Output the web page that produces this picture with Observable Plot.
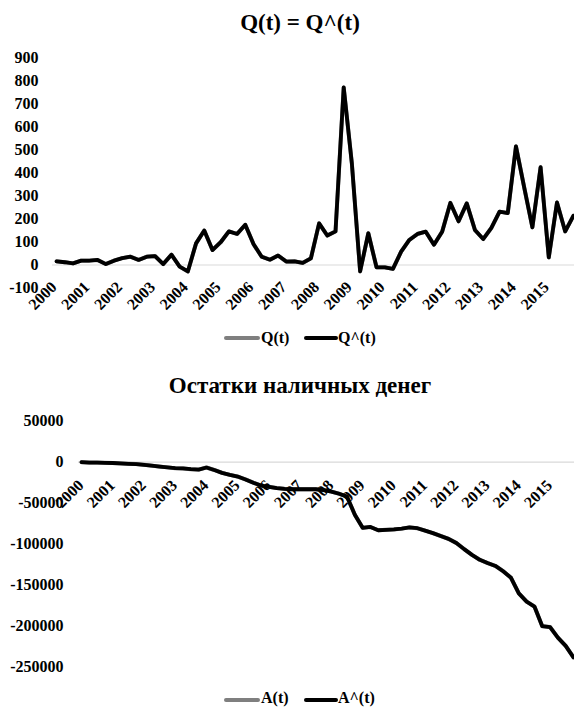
<!DOCTYPE html>
<html><head><meta charset="utf-8">
<script src="https://cdn.jsdelivr.net/npm/d3@7"></script>
<script src="https://cdn.jsdelivr.net/npm/@observablehq/plot@0.6"></script>
<style>
body{margin:0;background:#fff;}
#root{position:relative;width:574px;height:707px;overflow:hidden;font-family:'Liberation Serif';font-weight:bold;color:#000;}
.title{position:absolute;left:13px;width:574px;text-align:center;font-family:'Liberation Serif';font-size:23px;height:26px;line-height:26px;white-space:nowrap;}
.chart{position:absolute;left:0;}
.sw{position:absolute;height:4px;}
.lt{position:absolute;font-family:'Liberation Serif';font-size:16px;height:20px;line-height:20px;white-space:nowrap;}
svg text{font-family:'Liberation Serif';font-weight:bold;}
</style>
</head><body>
<div id="root"></div>
<script>
// ---- data (quarterly, 2000Q1 .. 2015Q4) ----
const years = ["2000","2001","2002","2003","2004","2005","2006","2007","2008","2009","2010","2011","2012","2013","2014","2015"];
const Q = [16,12,7,19,19,22,4,19, 30,36,22,36,39,4,45,-7, -28,94,150,65,99,146,135,175, 91,36,23,41,15,16,9,29,
           181,128,146,772,439,-28,138,-10, -10,-17,58,109,135,145,88,145, 270,190,268,152,113,161,232,226, 516,338,164,425,33,272,146,214];
const Qhat = [16,12,7,19,19,22,4,19, 30,36,22,36,39,4,45,-7, -28,94,150,65,99,146,135,175, 91,36,23,41,15,16,9,29,
           181,128,146,772,439,-28,138,-10, -10,-17,58,109,135,145,88,145, 270,190,268,152,113,161,232,226, 516,338,164,425,33,272,146,214];
const A = [0,-500,-400,-800,-1000,-1500,-2000,-2300, -3200,-4200,-5300,-6300,-7300,-7600,-8500,-9000,
           -6500,-9500,-13000,-15500,-17500,-21000,-25000,-28500, -30000,-31500,-32500,-33000,-33000,-33000,-33000,-34000,
           -35800,-38500,-42000,-64000,-80000,-79000,-83000,-82500, -82000,-81000,-79500,-80500,-83500,-86500,-90000,-93500,
           -98500,-106000,-113000,-119000,-123000,-126500,-133000,-141000, -160000,-170000,-176000,-200000,-201000,-214000,-224000,-238000];
const Ahat = [0,-500,-400,-800,-1000,-1500,-2000,-2300, -3200,-4200,-5300,-6300,-7300,-7600,-8500,-9000,
           -6500,-9500,-13000,-15500,-17500,-21000,-25000,-28500, -30000,-31500,-32500,-33000,-33000,-33000,-33000,-34000,
           -35800,-38500,-42000,-64000,-80000,-79000,-83000,-82500, -82000,-81000,-79500,-80500,-83500,-86500,-90000,-93500,
           -98500,-106000,-113000,-119000,-123000,-126500,-133000,-141000, -160000,-170000,-176000,-200000,-201000,-214000,-224000,-238000];
const qTicks = [-100,0,100,200,300,400,500,600,700,800,900];
const aTicks = [-250000,-200000,-150000,-100000,-50000,0,50000];
const title1 = "Q(t) = Q^(t)";
const title2 = "Остатки наличных денег";
const legend1 = ["Q(t)","Q^(t)"];
const legend2 = ["A(t)","A^(t)"];

const FONT = "Liberation Serif";
const root = document.getElementById("root");

function panel(opts){
  const rows = opts.series.map((v,i)=>({i, v, vh: opts.seriesHat[i]}));
  const yearRows = years.map((label,k)=>({i:k*4, label, y0:0}));
  const svg = Plot.plot({
    width:574, height:opts.height,
    marginLeft:opts.marginLeft, marginRight:0, marginTop:0, marginBottom:0,
    style:{fontFamily:FONT, fontSize:"16px", fontWeight:"bold", color:"#000", background:"transparent", overflow:"visible"},
    x:{type:"linear", domain:[-0.5,63.5], range:opts.xRange, axis:null},
    y:{domain:opts.yDomain, range:opts.yRange, axis:null},
    marks:[
      Plot.ruleY([0], {stroke:"#d9d9d9", strokeWidth:1.2}),
      Plot.axisY(opts.ticks, {tickSize:0, tickPadding:opts.tickPadding, tickFormat:d=>String(d), fill:"#000", label:null, fontFamily:FONT, fontSize:16}),
      Plot.line(rows, {x:"i", y:"v", stroke:"#7f7f7f", strokeWidth:4, strokeLinejoin:"round"}),
      Plot.line(rows, {x:"i", y:"vh", stroke:"#000", strokeWidth:3.8, strokeLinejoin:"round"}),
      Plot.text(yearRows, {x:"i", y:"y0", text:"label", rotate:-45, textAnchor:"end", lineAnchor:"top", dx:opts.ldx, dy:opts.ldy, fill:"#000", fontSize:16, fontFamily:FONT})
    ]
  });
  const wrap = document.createElement("div");
  wrap.className = "chart";
  wrap.style.top = opts.top + "px";
  wrap.appendChild(svg);
  root.appendChild(wrap);
}

function addTitle(text, top){
  const d = document.createElement("div");
  d.className = "title"; d.style.top = top + "px"; d.textContent = text;
  root.appendChild(d);
}
function addLegend(labels, top, swTop){
  const items = [{x1:224,x2:260,c:"#7f7f7f",tx:261},{x1:304,x2:338,c:"#000",tx:338}];
  items.forEach((it,k)=>{
    const s = document.createElement("div");
    s.className = "sw";
    s.style.left = it.x1+"px"; s.style.width = (it.x2-it.x1)+"px";
    s.style.top = swTop+"px"; s.style.background = it.c; s.style.borderRadius="2px";
    root.appendChild(s);
    const t = document.createElement("div");
    t.className = "lt"; t.style.left = it.tx+"px"; t.style.top = top+"px";
    t.textContent = labels[k];
    root.appendChild(t);
  });
}

addTitle(title1, 10);
panel({series:Q, seriesHat:Qhat, height:320, top:0, marginLeft:52, tickPadding:14,
       xRange:[52,577], yDomain:[-100,900], yRange:[287.5,57.5], ticks:qTicks, ldx:-7, ldy:15});
addLegend(legend1, 328, 336);

addTitle(title2, 373);
panel({series:A, seriesHat:Ahat, height:330, top:360, marginLeft:78, tickPadding:15,
       xRange:[77.1,576.9], yDomain:[-250000,50000], yRange:[306.7,60.7], ticks:aTicks, ldx:-5, ldy:16});
addLegend(legend2, 688, 698);
</script>
</body></html>
